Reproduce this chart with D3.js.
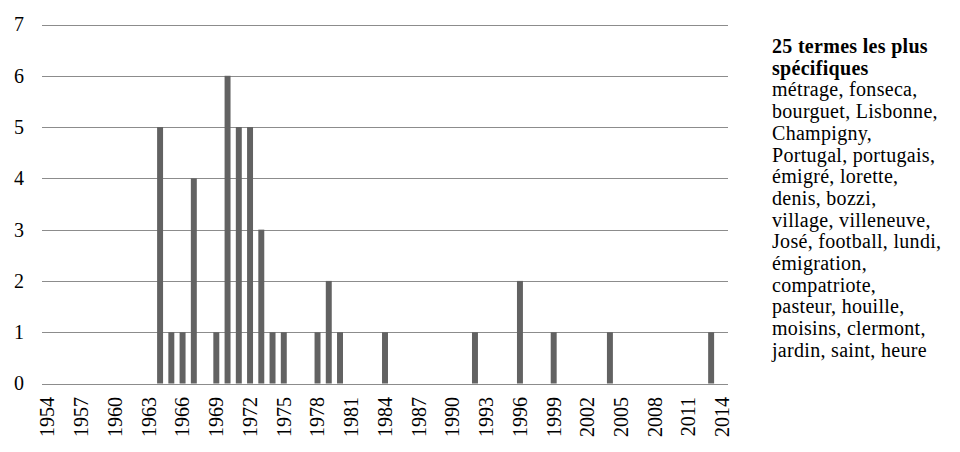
<!DOCTYPE html>
<html><head><meta charset="utf-8">
<script src="https://cdn.jsdelivr.net/npm/d3@7"></script>
<style>
html,body{margin:0;padding:0;background:#fff;}
svg text{font-family:"Liberation Serif","Times New Roman",Times,serif;}
</style></head>
<body><svg id="c" width="960" height="452"></svg>
<script>
const years = d3.range(1954, 2015);
const counts = [0,0,0,0,0,0,0,0,0,0,
  5,1,1,4,0,1,6,5,5,3,1,1,0,0,1,2,1,0,0,0,1,
  0,0,0,0,0,0,0,1,0,0,0,2,0,0,1,0,0,0,0,1,
  0,0,0,0,0,0,0,0,1,0];
const yTicks = [0,1,2,3,4,5,6,7];
const xTickLabels = ["1954","1957","1960","1963","1966","1969","1972","1975","1978","1981","1984","1987","1990","1993","1996","1999","2002","2005","2008","2011","2014"];
const legendTitle = ["25 termes les plus", "spécifiques"];
const legendLines = ["métrage, fonseca,","bourguet, Lisbonne,","Champigny,","Portugal, portugais,","émigré, lorette,","denis, bozzi,","village, villeneuve,","José, football, lundi,","émigration,","compatriote,","pasteur, houille,","moisins, clermont,","jardin, saint, heure"];

const svg = d3.select("#c");
const x = d3.scaleBand().domain(years).range([42, 728]).padding(0);
const y = d3.scaleLinear().domain([0, 7]).range([383.5, 24.5]);

svg.append("g").selectAll("line").data(yTicks).join("line")
  .attr("x1", 42).attr("x2", 728)
  .attr("y1", d => Math.round(y(d)) + 0.5).attr("y2", d => Math.round(y(d)) + 0.5)
  .attr("stroke", "#8c8c8c").attr("stroke-width", 1);

const ya = svg.append("g").attr("transform", "translate(42,0)")
  .call(d3.axisLeft(y).tickValues(yTicks).tickSize(0).tickPadding(18).tickFormat(d3.format("d")));
ya.attr("font-family", null);
ya.select(".domain").remove();
ya.selectAll("text").attr("font-size", 20).attr("fill", "#000");

const bw = x.bandwidth() * 0.53;
svg.append("g").selectAll("rect").data(years.map((yr, i) => ({yr, v: counts[i]})).filter(d => d.v > 0))
  .join("rect")
  .attr("x", d => x(d.yr) + (x.bandwidth() - bw) / 2)
  .attr("width", bw)
  .attr("y", d => y(d.v))
  .attr("height", d => y(0) - y(d.v))
  .attr("fill", "#626262");

const xa = svg.append("g").attr("transform", "translate(0,384)")
  .call(d3.axisBottom(x).tickValues(xTickLabels.map(Number)).tickSize(0));
xa.attr("font-family", null);
xa.select(".domain").remove();
xa.selectAll("text")
  .attr("transform", "rotate(-90)")
  .attr("x", -13).attr("y", 0).attr("dy", "0.34em")
  .attr("text-anchor", "end")
  .attr("font-size", 20).attr("fill", "#000");

const lg = svg.append("g");
const lh = 21.7;
legendTitle.concat(legendLines).forEach((t, i) => {
  lg.append("text").attr("x", 772).attr("y", 53 + i * lh)
    .attr("font-size", 20).attr("fill", "#000")
    .attr("letter-spacing", 0.3)
    .attr("font-weight", i < legendTitle.length ? "bold" : "normal")
    .text(t);
});
</script></body></html>
